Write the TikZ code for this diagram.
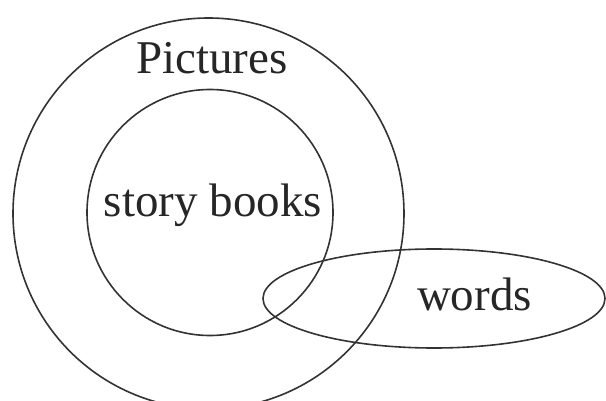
\documentclass[tikz,border=0pt]{standalone}
\usepackage{fontspec}
\setmainfont{Liberation Serif}
\usetikzlibrary{shapes.geometric}
\begin{document}
\begin{tikzpicture}[x=1pt,y=-1pt,
  set/.style={draw=black!80, line width=1.6pt, inner sep=0pt, outer sep=0pt},
  lbl/.style={anchor=base, inner sep=0pt, text=black!85, font=\fontsize{47}{56}\selectfont}]
\useasboundingbox (0,0) rectangle (606,401);
\node[set, circle, minimum size=391pt] (outer) at (208.5,213.5) {};
\node[set, circle, minimum size=246pt] (inner) at (210,212.5) {};
\node[set, ellipse, minimum width=342pt, minimum height=99pt] (words) at (434,298.5) {};
\node[lbl] (lpic) at (212,74) {Pictures};
\node[lbl] (lstory) at (213,217) {story books};
\node[lbl] (lwords) at (474.5,310) {words};
\end{tikzpicture}
\end{document}
